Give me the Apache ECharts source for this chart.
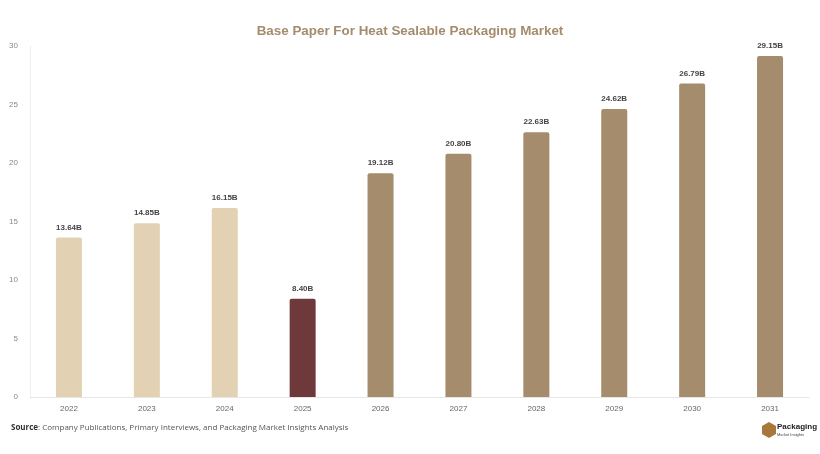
<html>
<head>
    <meta charset="utf-8" />
    <title>Base Paper For Heat Sealable Packaging Market</title>
    <script src="https://cdn.jsdelivr.net/npm/echarts@6/dist/echarts.min.js"></script>
</head>
<body style="margin:0;background:#fff;">
    <div id="chart" style="width:820px;height:454px;"></div>
    <script type="text/javascript">
        var years = ['2022', '2023', '2024', '2025', '2026', '2027', '2028', '2029', '2030', '2031'];
        var marketValues = [13.64, 14.85, 16.15, 8.40, 19.12, 20.80, 22.63, 24.62, 26.79, 29.15];
        var barColors = ['#e2d1b2', '#e2d1b2', '#e2d1b2', '#6e393a', '#a48c6c', '#a48c6c', '#a48c6c', '#a48c6c', '#a48c6c', '#a48c6c'];
        var yTicks = [0, 5, 10, 15, 20, 25, 30];

        var chart = echarts.init(document.getElementById('chart'));
        var option = {
            animation: false,
            title: {
                text: 'Base Paper For Heat Sealable Packaging Market',
                left: 'center',
                top: 20,
                textStyle: { color: '#a48c6c', fontSize: 13.4, fontWeight: 'bold', fontFamily: 'Liberation Sans, Arial' }
            },
            grid: { left: 30, right: 11, top: 46, bottom: 57 },
            xAxis: {
                type: 'category',
                data: years,
                axisLine: { lineStyle: { color: '#e6e6e6' } },
                axisTick: { show: false },
                axisLabel: { color: '#666', fontSize: 8, margin: 8, fontFamily: 'Liberation Sans, Arial' }
            },
            yAxis: {
                type: 'value',
                min: yTicks[0],
                max: yTicks[yTicks.length - 1],
                interval: 5,
                axisLine: { show: true, lineStyle: { color: '#eeeeee' } },
                axisTick: { show: false },
                splitLine: { show: false },
                axisLabel: { color: '#888', fontSize: 8, margin: 12, fontFamily: 'Liberation Sans, Arial' }
            },
            series: [{
                type: 'bar',
                barWidth: 26,
                data: marketValues.map(function (v, i) {
                    return { value: v, itemStyle: { color: barColors[i], borderRadius: [2, 2, 0, 0] } };
                }),
                label: {
                    show: true,
                    position: 'top',
                    distance: 6,
                    color: '#444',
                    fontSize: 8,
                    fontWeight: 'bold',
                    fontFamily: 'Liberation Sans, Arial',
                    formatter: function (p) { return p.value.toFixed(2) + 'B'; }
                }
            }],
            graphic: [
                {
                    type: 'text', left: 11, top: 424,
                    style: {
                        text: '{b|Source}: Company Publications, Primary Interviews, and Packaging Market Insights Analysis',
                        rich: { b: { fontWeight: 'bold', fontSize: 8, fill: '#333', fontFamily: 'Open Sans' } },
                        fontSize: 8, fill: '#555', fontFamily: 'Open Sans'
                    }
                },
                {
                    type: 'polygon', shape: { points: [[769, 422], [776, 426], [776, 434], [769, 438], [762, 434], [762, 426]] },
                    style: { fill: '#a8773a' }
                },
                {
                    type: 'text', left: 777, top: 423,
                    style: { text: 'Packaging', fontSize: 8, fontWeight: 'bold', fill: '#222', fontFamily: 'Liberation Sans, Arial' }
                },
                {
                    type: 'text', left: 777, top: 433,
                    style: { text: 'Market Insights', fontSize: 4, fill: '#444', fontFamily: 'Liberation Sans, Arial' }
                }
            ]
        };
        chart.setOption(option);
    </script>
</body>
</html>
